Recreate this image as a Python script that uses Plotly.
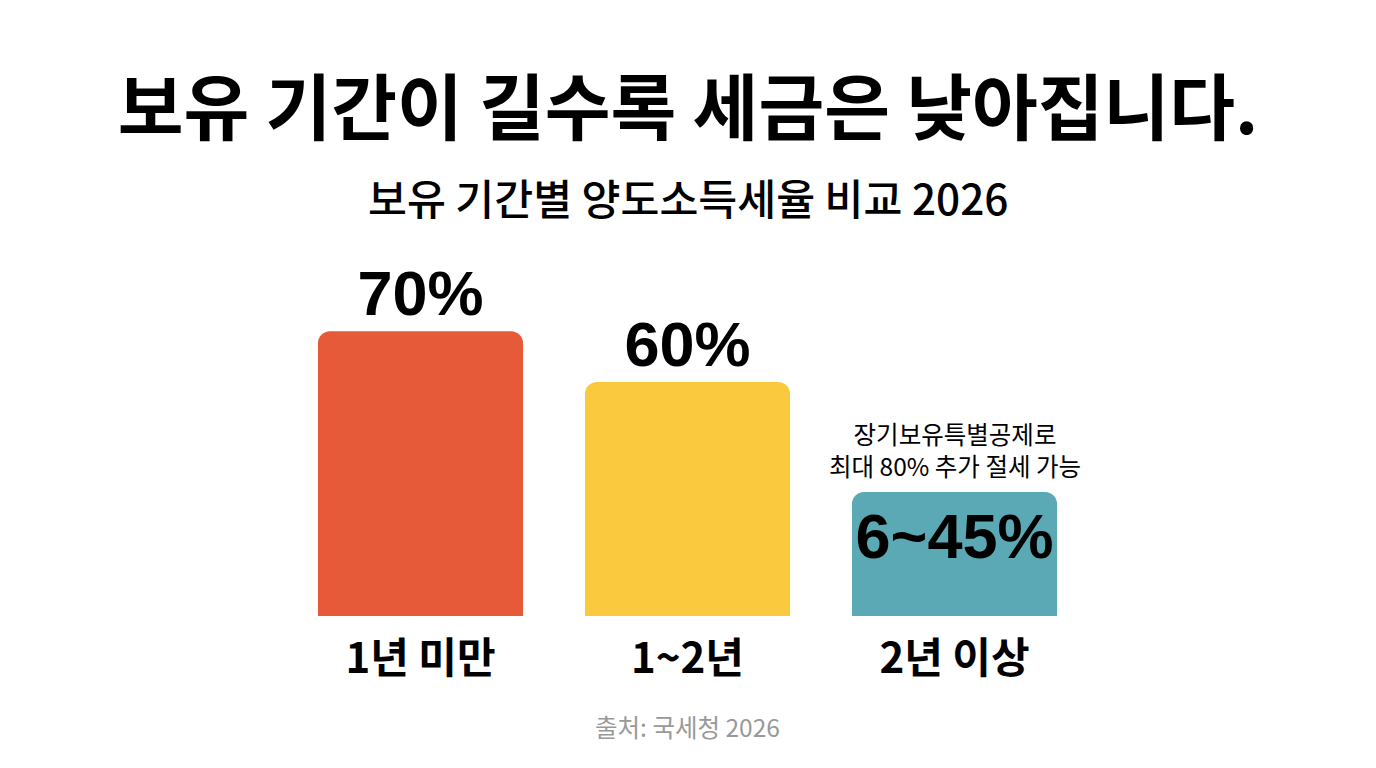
import plotly.graph_objects as go

# 보유 기간별 세율 막대
categories = ["1년 미만", "1~2년", "2년 이상"]
# 막대 높이는 그림에서 읽은 값 (라벨과 비례하지 않음)
bar_heights = [70, 57.5, 30.5]
bar_labels = ["70%", "60%", "6~45%"]
bar_colors = ["#E65A3A", "#FBC93D", "#5AA9B5"]
label_positions = ["outside", "outside", "inside"]

title_text = "보유 기간이 길수록 세금은 낮아집니다."
subtitle_text = "보유 기간별 양도소득세율 비교 2026"
note_text = "장기보유특별공제로<br>최대 80% 추가 절세 가능"
source_text = "출처: 국세청 2026"

FONT = "Noto Sans CJK KR"
NUM_FONT = "Liberation Sans"

fig = go.Figure()

fig.add_trace(go.Bar(
    x=categories,
    y=bar_heights,
    marker=dict(color=bar_colors, line=dict(width=0), cornerradius=12),
    text=bar_labels,
    textposition=label_positions,
    textangle=0,
    cliponaxis=False,
    insidetextanchor="end",
    textfont=dict(family=NUM_FONT, size=63, color="#000000", weight=700),
    width=0.768,
    showlegend=False,
))

fig.update_layout(
    width=1376,
    height=768,
    paper_bgcolor="white",
    plot_bgcolor="white",
    margin=dict(l=287, r=288, t=260, b=152),
    font=dict(family=FONT, color="#000000"),
    title=dict(
        text="<b>" + title_text + "</b>",
        font=dict(family=FONT, size=71.5, color="#000000"),
        x=0.5,
        xanchor="center",
        y=0.858,
        yanchor="middle",
    ),
    xaxis=dict(
        showgrid=False,
        showline=False,
        zeroline=False,
        ticks="",
        tickfont=dict(family=FONT, size=42, color="#000000", weight=700),
        ticklabelstandoff=14,
    ),
    yaxis=dict(visible=False, range=[0, 87.5]),
    annotations=[
        dict(
            text=subtitle_text, xref="paper", yref="paper", x=0.5, y=1.177,
            xanchor="center", yanchor="middle", showarrow=False,
            font=dict(family=FONT, size=42.3, color="#000000", weight=500),
        ),
        dict(
            text=note_text, xref="x", yref="paper", x=2, y=0.369,
            xanchor="center", yanchor="bottom", showarrow=False,
            font=dict(family=FONT, size=24.5, color="#000000"),
        ),
        dict(
            text=source_text, xref="paper", yref="paper", x=0.5, y=-0.31,
            xanchor="center", yanchor="middle", showarrow=False,
            font=dict(family=FONT, size=24.5, color="#999999"),
        ),
    ],
)

# 페이지 기본 여백 제거, 모드바 숨김
fig.write_html(
    "out.html",
    config={"displayModeBar": False},
    post_script="document.body.style.margin='0';",
)
